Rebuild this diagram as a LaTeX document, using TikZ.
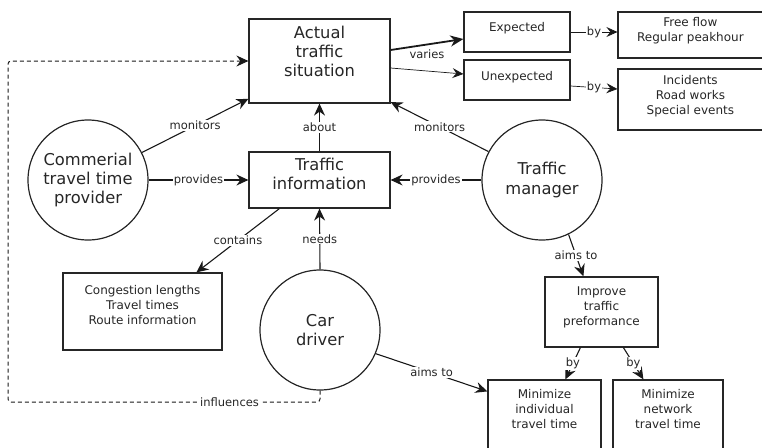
\documentclass[tikz,border=0pt]{standalone}
\usepackage{fontspec}
\setmainfont{DejaVu Sans}
\usetikzlibrary{arrows.meta,calc}
\begin{document}
\begin{tikzpicture}[x=1pt,y=-1pt,
  box/.style={draw=black!85, line width=1.2pt, rectangle, inner sep=0pt},
  bigtxt/.style={font=\fontsize{16.3}{19}\selectfont, align=center, inner sep=0pt, anchor=north, text=black!85},
  txt/.style={font=\fontsize{12}{15}\selectfont, align=center, inner sep=0pt, anchor=north, text=black!85},
  circ/.style={draw=black!85, circle, line width=1.2pt, minimum size=120pt, inner sep=0pt,
    font=\fontsize{16.3}{19.5}\selectfont, align=center, text=black!85},
  lbl/.style={font=\fontsize{11.5}{13}\selectfont, fill=white, inner sep=1pt, text=black!85},
  arr/.style={draw=black!90, -{Stealth[length=12pt,width=11pt,inset=4pt]}, line width=1.1pt},
  thinarr/.style={draw=black!90, -{Stealth[length=11pt,width=10pt,inset=4pt]}, line width=0.7pt},
  thickarr/.style={draw=black!90, -{Stealth[length=13pt,width=11pt,inset=4pt]}, line width=1.8pt},
  dasharr/.style={draw=black!90, dashed, dash pattern=on 4pt off 3pt, line width=1pt, rounded corners=3pt,
    -{Stealth[length=12pt,width=11pt,inset=4pt]}}
]
\useasboundingbox (0,0) rectangle (762,447);
\clip (0,0) rectangle (762,447);

% boxes
\node[box, minimum width=141pt, minimum height=84pt] (act) at (319.5,61) {};
\node[bigtxt] (actT) at ($(act.north)+(0,8)$) {Actual\\traffic\\situation};
\node[box, minimum width=141pt, minimum height=56pt] (ti) at (319.5,180) {};
\node[bigtxt] (tiT) at ($(ti.north)+(0,7)$) {Traffic\\information};
\node[box, minimum width=106pt, minimum height=40pt] (exp) at (517,32) {};
\node[txt] (expT) at ($(exp.north)+(0,11)$) {Expected};
\node[box, minimum width=106pt, minimum height=40pt] (unexp) at (517,80) {};
\node[txt] (unexpT) at ($(unexp.north)+(0,12)$) {Unexpected};
\node[box, minimum width=147pt, minimum height=46pt] (ff) at (691.5,35) {};
\node[txt] (ffT) at ($(ff.north west)+(73,6)$) {Free flow\\Regular peakhour};
\node[box, minimum width=147pt, minimum height=61pt] (inc) at (691.5,99.5) {};
\node[txt] (incT) at ($(inc.north west)+(73,7)$) {Incidents\\Road works\\Special events};
\node[box, minimum width=159pt, minimum height=77pt] (cong) at (142.5,311.5) {};
\node[txt] (congT) at ($(cong.north)+(0,13)$) {Congestion lengths\\Travel times\\Route information};
\node[box, minimum width=113pt, minimum height=70pt] (imp) at (601.5,312) {};
\node[txt] (impT) at ($(imp.north)+(0,10)$) {Improve\\traffic\\preformance};
\node[box, minimum width=113pt, minimum height=80pt] (mi) at (544.5,420) {};
\node[txt] (miT) at ($(mi.north)+(0,10)$) {Minimize\\individual\\travel time};
\node[box, minimum width=110pt, minimum height=80pt] (mn) at (668,420) {};
\node[txt] (mnT) at ($(mn.north)+(0,10)$) {Minimize\\network\\travel time};

% circles
\node[circ] (ctp) at (88,180) {Commerial\\travel time\\provider};
\node[circ] (tm) at (542,180) {Traffic\\manager};
\node[circ] (cd) at (320,330) {Car\\driver};

% connectors
\draw[arr] (ctp.27) -- node[lbl] {monitors} (act.208);
\draw[arr] (ctp.east) -- node[lbl] {provides} (ti.west);
\draw[arr] (ti.north) -- node[lbl] {about} (act.south);
\draw[arr] (tm.152) -- node[lbl] {monitors} (act.330);
\draw[arr] (tm.west) -- node[lbl] {provides} (ti.east);
\draw[thickarr] ($(act.east)+(0,-11)$) -- node[lbl, below=3pt, fill=none] {varies} ($(exp.west)+(0,7)$);
\draw[thinarr] ($(act.east)+(0,7)$) -- ($(unexp.west)+(0,-6)$);
\draw[thinarr] (exp.east) -- node[lbl] {by} ($(ff.west)+(0,-3)$);
\draw[thinarr] ($(unexp.east)+(0,6)$) -- node[lbl] {by} ($(inc.west)+(0,-10.5)$);
\draw[arr] ($(ti.south west)+(31,0)$) -- node[lbl] {contains} ($(cong.north west)+(134,0)$);
\draw[arr] (cd.north) -- node[lbl] {needs} (ti.south);
\draw[arr] (tm.-64) -- node[lbl] {aims to} ($(imp.north west)+(39,0)$);
\draw[arr] (cd.-23) -- node[lbl] {aims to} ($(mi.north west)+(0,12)$);
\draw[arr] ($(imp.south west)+(36,0)$) -- node[lbl] {by} ($(mi.north west)+(78,0)$);
\draw[arr] ($(imp.south west)+(79,0)$) -- node[lbl] {by} ($(mn.north west)+(31,0)$);
\coordinate (dA) at (320,402);
\coordinate (dB) at (8,402);
\coordinate (dC) at (8,61);
\draw[dasharr] (cd.south) -- (dA) -- node[lbl, pos=0.29] {influences} (dB) -- (dC) -- (act.west);
\end{tikzpicture}
\end{document}
